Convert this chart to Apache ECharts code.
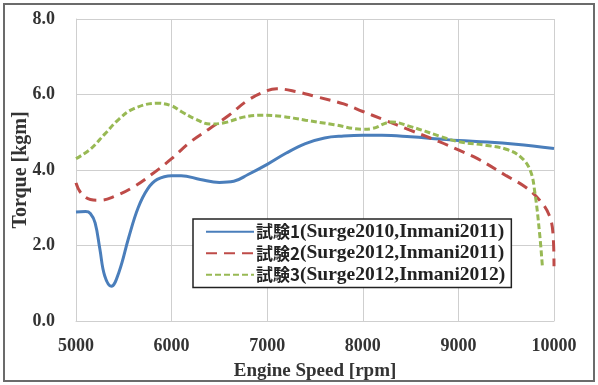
<!DOCTYPE html>
<html lang="ja">
<head>
  <meta charset="UTF-8">
  <title>Torque</title>
  <style>
    html, body { margin: 0; padding: 0; background: #fff; }
  </style>
  <script src="https://cdn.jsdelivr.net/npm/echarts@6/dist/echarts.min.js"></script>
</head>
<body>
<div id="chart" style="width: 598px; height: 385px;"></div>
<script>
  // 試験1
  const rpm1 = [5000, 5100, 5150, 5200, 5250, 5300, 5370, 5450, 5550, 5650, 5750, 5850, 6000, 6100, 6300, 6500, 6650, 6800, 7000, 7200, 7400, 7600, 7800, 8000, 8200, 8500, 8800, 9000, 9300, 9600, 10000]
  const torque1 = [2.89, 2.9, 2.85, 2.6, 1.9, 1.2, 0.92, 1.3, 2.2, 3.0, 3.5, 3.75, 3.85, 3.85, 3.75, 3.67, 3.7, 3.88, 4.15, 4.45, 4.7, 4.85, 4.9, 4.92, 4.92, 4.88, 4.82, 4.78, 4.74, 4.68, 4.57]
  // 試験2
  const rpm2 = [5000, 5050, 5150, 5250, 5400, 5600, 5800, 6000, 6200, 6400, 6600, 6800, 7000, 7100, 7300, 7500, 7800, 8000, 8200, 8500, 8800, 9000, 9200, 9500, 9700, 9850, 9950, 9990, 10000]
  const torque2 = [3.66, 3.4, 3.22, 3.2, 3.3, 3.55, 3.9, 4.3, 4.75, 5.1, 5.45, 5.85, 6.1, 6.15, 6.08, 5.95, 5.75, 5.55, 5.35, 5.05, 4.75, 4.53, 4.3, 3.85, 3.55, 3.2, 2.8, 2.3, 1.45]
  // 試験3
  const rpm3 = [5000, 5150, 5300, 5450, 5600, 5850, 6000, 6100, 6250, 6400, 6550, 6750, 6950, 7150, 7400, 7700, 8000, 8100, 8300, 8500, 8800, 9000, 9300, 9500, 9650, 9750, 9800, 9850, 9880]
  const torque3 = [4.3, 4.55, 4.95, 5.35, 5.62, 5.77, 5.7, 5.55, 5.35, 5.22, 5.25, 5.4, 5.45, 5.42, 5.32, 5.2, 5.08, 5.1, 5.27, 5.15, 4.9, 4.75, 4.65, 4.55, 4.35, 4.0, 3.4, 2.3, 1.4]

  const names = ['試験1(Surge2010,Inmani2011)', '試験2(Surge2012,Inmani2011)', '試験3(Surge2012,Inmani2012)']
  const xTicks = [5000, 6000, 7000, 8000, 9000, 10000]
  const yTicks = [0, 2, 4, 6, 8]

  const pairs = (xs, ys) => xs.map((x, i) => [x, ys[i]])
  const font = "'Liberation Serif', 'Noto Sans CJK JP', serif"

  const chart = echarts.init(document.getElementById('chart'))
  chart.setOption({
    animation: false,
    graphic: [{
      type: 'rect',
      shape: { x: 4, y: 4, width: 590, height: 377 },
      style: { fill: 'none', stroke: '#6b6b6b', lineWidth: 2 }
    }],
    grid: { left: 76, right: 44, top: 19, bottom: 64, outerBoundsMode: 'none', containLabel: false },
    legend: {
      left: 193,
      top: 219,
      orient: 'vertical',
      backgroundColor: '#fff',
      borderColor: '#222',
      borderWidth: 1.5,
      borderRadius: 0,
      padding: [3, 6, 3, 12],
      itemWidth: 48,
      itemHeight: 20,
      itemGap: 2,
      itemStyle: { opacity: 0 },
      formatter: n => {
        const i = n.indexOf('(')
        return '{c|' + n.slice(0, i) + '}{l|' + n.slice(i) + '}'
      },
      textStyle: {
        color: '#222',
        padding: [0, 0, 0, -3],
        rich: {
          c: { fontFamily: "'Noto Sans CJK JP', sans-serif", fontWeight: 'bold', fontSize: 17, color: '#222' },
          l: { fontFamily: font, fontWeight: 'bold', fontSize: 19.5, color: '#222' }
        }
      },
      data: names
    },
    xAxis: {
      type: 'value',
      min: xTicks[0],
      max: xTicks[xTicks.length - 1],
      interval: 1000,
      name: 'Engine Speed [rpm]',
      nameLocation: 'middle',
      nameGap: 41,
      nameMoveOverlap: false,
      nameTextStyle: { fontFamily: font, fontWeight: 'bold', fontSize: 19, color: '#333' },
      axisLine: { lineStyle: { color: '#cfcfcf' } },
      axisTick: { show: false },
      splitLine: { show: true, lineStyle: { color: '#cfcfcf' } },
      axisLabel: { margin: 16, fontFamily: font, fontWeight: 'bold', fontSize: 18, color: '#333', formatter: v => String(v) }
    },
    yAxis: {
      type: 'value',
      min: yTicks[0],
      max: yTicks[yTicks.length - 1],
      interval: 2,
      name: 'Torque [kgm]',
      nameLocation: 'middle',
      nameGap: 45,
      nameMoveOverlap: false,
      nameTextStyle: { fontFamily: font, fontWeight: 'bold', fontSize: 20, color: '#333' },
      axisLine: { show: true, lineStyle: { color: '#cfcfcf' } },
      axisTick: { show: false },
      splitLine: { show: true, lineStyle: { color: '#cfcfcf' } },
      axisLabel: { margin: 21, fontFamily: font, fontWeight: 'bold', fontSize: 18, color: '#333', formatter: v => v.toFixed(1) }
    },
    series: [
      {
        name: names[0], type: 'line', data: pairs(rpm1, torque1),
        smooth: 0.4, symbol: 'none', color: '#4a7ebb',
        lineStyle: { width: 3, color: '#4a7ebb' }
      },
      {
        name: names[1], type: 'line', data: pairs(rpm2, torque2),
        smooth: 0.4, symbol: 'none', color: '#be4b48',
        lineStyle: { width: 3, color: '#be4b48', type: [11, 7] }
      },
      {
        name: names[2], type: 'line', data: pairs(rpm3, torque3),
        smooth: 0.4, symbol: 'none', color: '#98b954',
        lineStyle: { width: 3, color: '#98b954', type: [6, 3] }
      }
    ]
  })
</script>
</body>
</html>
